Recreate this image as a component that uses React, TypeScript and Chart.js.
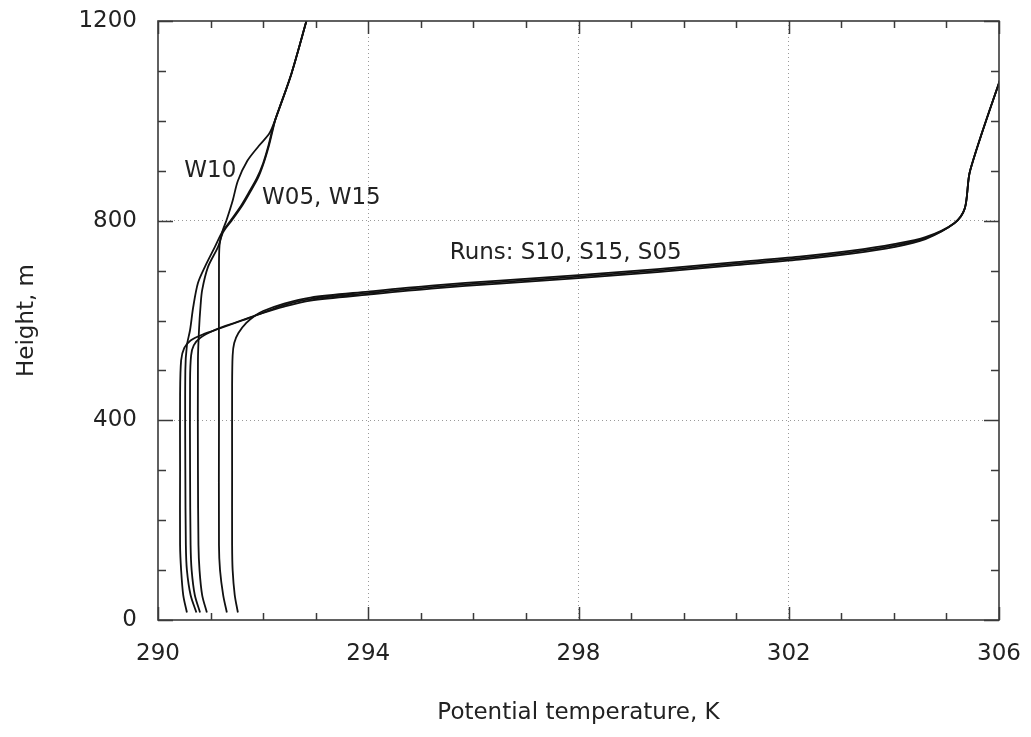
import React, { useEffect, useRef } from 'react';
import { Chart, registerables } from 'chart.js';

Chart.register(...registerables);

// ---- axis setup ----
const xMin = 290;
const xMax = 306;
const yMin = 0;
const yMax = 1200;
const xLabelStep = 4;
const yLabelStep = 400;
const xMinorStep = 1;
const yMinorStep = 100;

// ---- series (potential temperature K, height m) ----
const s05T = [290.55, 290.48, 290.44, 290.42, 290.42, 290.42, 290.44, 290.5, 290.62, 290.85, 291.2, 291.6, 292.0, 292.4, 292.9, 294.0, 295.2, 296.5, 298.0, 299.5, 301.0, 302.2, 303.2, 304.0, 304.6, 305.15, 305.35, 305.45, 306.1];
const s05H = [15, 50, 100, 150, 300, 450, 520, 545, 560, 572, 585, 600, 615, 628, 640, 652, 664, 674, 685, 697, 711, 722, 734, 747, 763, 795, 825, 900, 1107];

const s10T = [290.8, 290.7, 290.64, 290.62, 290.61, 290.61, 290.63, 290.68, 290.8, 291.1, 291.5, 291.9, 292.4, 292.9, 294.0, 295.2, 296.5, 298.0, 299.5, 301.0, 302.2, 303.2, 304.0, 304.6, 305.15, 305.35, 305.45, 306.1];
const s10H = [15, 50, 100, 150, 300, 480, 530, 550, 565, 582, 597, 612, 631, 643, 655, 667, 677, 688, 700, 714, 725, 737, 750, 765, 795, 825, 900, 1107];

const s15T = [291.52, 291.46, 291.42, 291.41, 291.41, 291.41, 291.42, 291.45, 291.53, 291.68, 291.85, 292.0, 292.4, 292.9, 294.0, 295.2, 296.5, 298.0, 299.5, 301.0, 302.2, 303.2, 304.0, 304.6, 305.15, 305.35, 305.45, 306.1];
const s15H = [15, 50, 100, 150, 300, 470, 530, 555, 575, 595, 610, 619, 634, 646, 658, 670, 680, 691, 703, 717, 728, 740, 753, 767, 795, 825, 900, 1107];

const w05T = [290.73, 290.62, 290.55, 290.53, 290.52, 290.52, 290.55, 290.61, 290.67, 290.76, 290.89, 291.08, 291.22, 291.38, 291.58, 291.72, 291.88, 292.0, 292.1, 292.17, 292.24, 292.54, 292.85];
const w05H = [15, 50, 100, 150, 300, 500, 550, 581, 627, 675, 707, 747, 777, 800, 830, 855, 885, 915, 950, 980, 1005, 1095, 1210];

const w15T = [290.93, 290.84, 290.79, 290.77, 290.76, 290.76, 290.78, 290.81, 290.84, 290.95, 291.14, 291.24, 291.4, 291.6, 291.74, 291.9, 292.01, 292.11, 292.18, 292.24, 292.54, 292.85];
const w15H = [15, 50, 100, 150, 300, 520, 581, 630, 661, 707, 747, 777, 800, 830, 855, 885, 915, 950, 980, 1005, 1095, 1210];

const w10T = [291.31, 291.24, 291.18, 291.16, 291.16, 291.16, 291.17, 291.22, 291.3, 291.42, 291.52, 291.7, 291.92, 292.12, 292.24, 292.54, 292.85];
const w10H = [15, 50, 100, 150, 400, 700, 750, 777, 800, 840, 880, 920, 950, 975, 1005, 1095, 1210];

const seriesNames = ['S05', 'S10', 'S15', 'W05', 'W10', 'W15'];
const seriesT = [s05T, s10T, s15T, w05T, w10T, w15T];
const seriesH = [s05H, s10H, s15H, w05H, w10H, w15H];

// ---- in-plot annotations ----
const noteTexts = ['W10', 'W05, W15', 'Runs: S10, S15, S05'];
const noteT = [290.5, 291.98, 295.55];
const noteH = [900, 845, 735];

const xTitle = 'Potential temperature, K';
const yTitle = 'Height, m';

const FONT = "'DejaVu Sans', Verdana, sans-serif";
const TEXT_COLOR = '#222';

const framePlugin = {
  id: 'gnuplotFrame',
  afterDatasetsDraw(chart: any) {
    const { ctx, chartArea, scales } = chart;
    const { left, right, top, bottom } = chartArea;
    const xs = scales.x;
    const ys = scales.y;
    ctx.save();
    // annotations
    ctx.fillStyle = TEXT_COLOR;
    ctx.font = `23px ${FONT}`;
    ctx.textBaseline = 'middle';
    ctx.textAlign = 'left';
    noteTexts.forEach((t, i) => {
      ctx.fillText(t, xs.getPixelForValue(noteT[i]), ys.getPixelForValue(noteH[i]));
    });
    // frame
    ctx.strokeStyle = '#3a3a3a';
    ctx.lineWidth = 1.6;
    ctx.strokeRect(left, top, right - left, bottom - top);
    // ticks
    ctx.lineWidth = 1.5;
    ctx.beginPath();
    for (let v = xMin; v <= xMax + 1e-9; v += xMinorStep) {
      const px = Math.round(xs.getPixelForValue(v)) + 0.5;
      const major = Math.abs((v - xMin) % xLabelStep) < 1e-6;
      const len = major ? 13 : 7;
      ctx.moveTo(px, bottom);
      ctx.lineTo(px, bottom - len);
      ctx.moveTo(px, top);
      ctx.lineTo(px, top + len);
    }
    for (let v = yMin; v <= yMax + 1e-9; v += yMinorStep) {
      const py = Math.round(ys.getPixelForValue(v)) + 0.5;
      const major = Math.abs((v - yMin) % yLabelStep) < 1e-6;
      const len = major ? 15 : 8;
      ctx.moveTo(left, py);
      ctx.lineTo(left + len, py);
      ctx.moveTo(right, py);
      ctx.lineTo(right - len, py);
    }
    ctx.stroke();
    ctx.restore();
  },
};

export default function App() {
  const canvasRef = useRef<HTMLCanvasElement | null>(null);

  useEffect(() => {
    const canvas = canvasRef.current;
    if (!canvas) return;
    const datasets = seriesNames.map((name, i) => ({
      label: name,
      data: seriesT[i].map((t, j) => ({ x: t, y: seriesH[i][j] })),
      showLine: true,
      borderColor: '#111',
      borderWidth: 1.8,
      pointRadius: 0,
      tension: 0.3,
      fill: false,
    }));
    const gridColor = (lo: number, hi: number) => (c: any) =>
      c.tick && (c.tick.value === lo || c.tick.value === hi) ? 'rgba(0,0,0,0)' : '#9a9a9a';
    const chart = new Chart(canvas, {
      type: 'scatter',
      data: { datasets },
      plugins: [framePlugin],
      options: {
        animation: false,
        responsive: false,
        events: [],
        layout: { padding: { left: 0, right: 32, top: 21, bottom: 0 } },
        plugins: {
          legend: { display: false },
          tooltip: { enabled: false },
        },
        scales: {
          x: {
            type: 'linear',
            min: xMin,
            max: xMax,
            ticks: {
              stepSize: xLabelStep,
              font: { family: FONT, size: 23 },
              color: TEXT_COLOR,
              padding: 20,
              maxRotation: 0,
              autoSkip: false,
              callback: (v: any) => String(v),
            },
            grid: { color: gridColor(xMin, xMax), lineWidth: 1, drawTicks: false },
            border: { display: false, dash: [1, 3] },
            title: {
              display: true,
              text: xTitle,
              font: { family: FONT, size: 23 },
              color: TEXT_COLOR,
              padding: { top: 0, bottom: 10 },
            },
            afterFit: (s: any) => {
              s.height = 117;
              s.paddingLeft = 0;
              s.paddingRight = 0;
            },
          },
          y: {
            type: 'linear',
            min: yMin,
            max: yMax,
            ticks: {
              stepSize: yLabelStep,
              font: { family: FONT, size: 23 },
              color: TEXT_COLOR,
              padding: 21,
              callback: (v: any) => String(v),
            },
            grid: { color: gridColor(yMin, yMax), lineWidth: 1, drawTicks: false },
            border: { display: false, dash: [1, 3] },
            title: {
              display: true,
              text: yTitle,
              font: { family: FONT, size: 23 },
              color: TEXT_COLOR,
              padding: { top: 13, bottom: 0 },
            },
            afterFit: (s: any) => {
              s.width = 158;
              s.paddingTop = 0;
              s.paddingBottom = 0;
            },
          },
        },
      },
    } as any);
    return () => chart.destroy();
  }, []);

  return (
    <div style={{ position: 'absolute', left: 0, top: 0, width: 1031, height: 737, background: '#fff' }}>
      <canvas ref={canvasRef} width={1031} height={737} style={{ display: 'block', width: 1031, height: 737 }} />
    </div>
  );
}
